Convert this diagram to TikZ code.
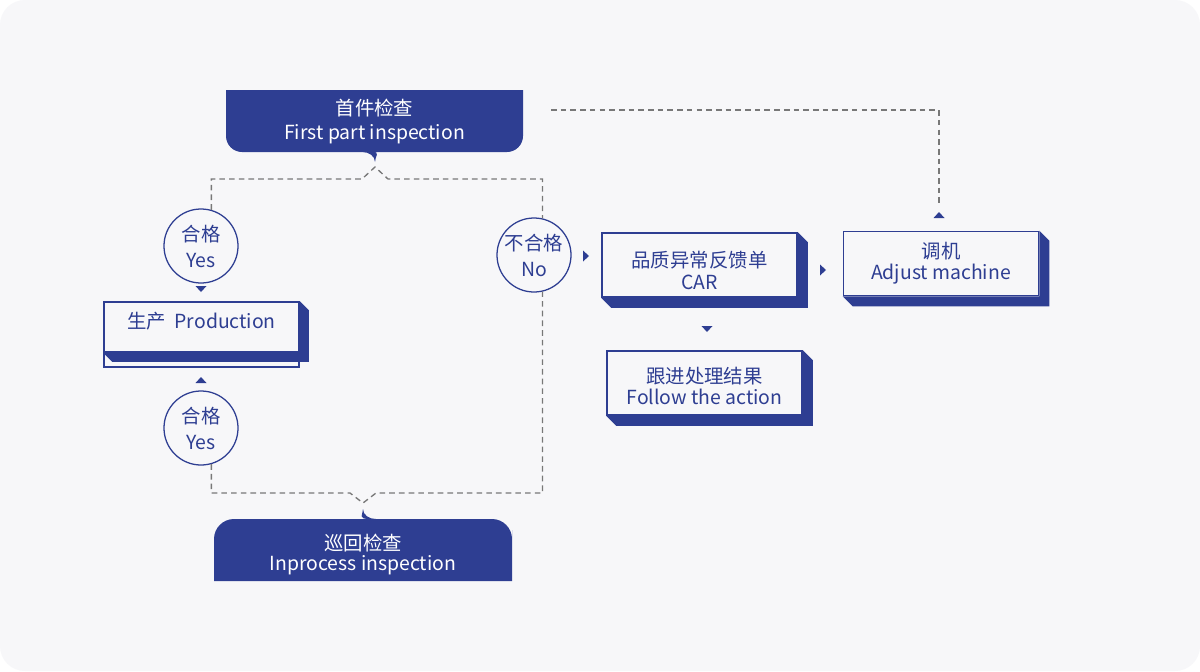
\documentclass[tikz,border=0pt]{standalone}
\usepackage{fontspec}
\newfontfamily\cjk{Noto Sans CJK SC}
\usetikzlibrary{calc}
\definecolor{cblue}{HTML}{2E3E92}
\definecolor{pagebg}{HTML}{F7F7F9}
\definecolor{dashgray}{HTML}{787878}
\newcommand\labfont[1]{\cjk\fontsize{13.8}{#1}\selectfont}
% extruded edge below and right of a box node
\newcommand\extrude[2]{%
  \fill[cblue] (#1.north east) -- ++(#2,#2) -- ($(#1.south east)+(#2,#2)$)
    -- ($(#1.south west)+(#2,#2)$) -- (#1.south west) -- (#1.south east) -- cycle;}
\tikzset{
  banner/.style  = {fill=cblue, draw=none},
  bantext/.style = {text=white, align=center, inner sep=0pt},
  procbox/.style = {draw=cblue, line width=1.2pt, fill=pagebg, minimum width=4.875cm,
                    inner sep=0pt, text=cblue, align=center},
  boxtext/.style = {text=cblue, align=center, inner sep=0pt},
  yesno/.style   = {circle, draw=cblue, line width=0.9pt, fill=pagebg, minimum size=1.85cm,
                    inner sep=0pt, text=cblue, align=center, font=\labfont{18.5}},
  flow/.style    = {draw=dashgray, line width=0.95pt, dash pattern=on 4pt off 2.9pt},
  tip/.style     = {fill=cblue},
}
\begin{document}
\begin{tikzpicture}[x=0.025cm, y=-0.025cm]
  \fill[white] (0,0) rectangle (1200,671);
  \fill[pagebg, rounded corners=0.625cm] (0,0) rectangle (1200,671);

  % banners
  \fill[banner] (226,90) -- (523,90) -- (523,120) [rounded corners=0.4cm] -- (523,152) -- (388,152)
    [sharp corners] .. controls (381,152) and (375,156) .. (375,162)
    .. controls (375,156) and (369,152) .. (362,152) [rounded corners=0.4cm] -- (226,152)
    -- (226,120) [sharp corners] -- cycle;
  \fill[banner] (214,581) -- (214,550) [rounded corners=0.5cm] -- (214,519) -- (350,519)
    [sharp corners] .. controls (357,519) and (363,515) .. (363,509)
    .. controls (363,515) and (369,519) .. (376,519) [rounded corners=0.5cm] -- (512,519)
    -- (512,550) [sharp corners] -- (512,581) -- cycle;
  \node[bantext, font=\labfont{16.6}] (first) at (374.5,121.5) {首件检查\\First part inspection};
  \node[bantext, font=\labfont{14.2}] (inproc) at (363,554.5) {巡回检查\\Inprocess inspection};

  % boxes
  \draw[cblue, line width=0.8pt] (104,302) rectangle (299,367);
  \node[procbox, minimum height=1.25cm] (prod) at (201.5,327) {};
  \extrude{prod}{9}
  \node[boxtext, font=\labfont{16}] (prodlab) at (201.5,321) {生产\hspace{0.45em}Production};
  \node[procbox, minimum height=1.6cm] (car) at (699.5,265) {};
  \extrude{car}{10}
  \node[boxtext, font=\labfont{15.6}] (carlab) at (699.5,270) {品质异常反馈单\\CAR};
  \node[procbox, minimum height=1.6cm] (follow) at (704.5,383) {};
  \extrude{follow}{10}
  \node[boxtext, font=\labfont{14.5}] (followlab) at (704.5,386) {跟进处理结果\\Follow the action};
  \node[procbox, minimum height=1.6cm, font=\labfont{15}] (adjust) at (941,263.5) {调机\\Adjust machine};
  \extrude{adjust}{10}

  % decisions
  \node[yesno] (pass1) at (201,246) {合格\\Yes};
  \node[yesno] (pass2) at (201,428) {合格\\Yes};
  \node[yesno] (fail) at (534,255) {不合格\\No};

  % dashed connectors
  \coordinate (firstout) at (551,110);
  \coordinate (adjustin) at (939,205);
  \draw[flow] (pass1.74) |- (362,179) -- (375,167) -- (388,179) -| (fail.77);
  \draw[flow] (pass2.-74) |- (350,493) -- (363,503) -- (376,493) -| (fail.-77);
  \draw[flow] (firstout) -| (adjustin);

  % tips
  \fill[tip] (195.5,286) -- (206.5,286) -- (201,292) -- cycle;
  \fill[tip] (195.5,383) -- (206.5,383) -- (201,377) -- cycle;
  \fill[tip] (583,250.5) -- (583,261.5) -- (589,256) -- cycle;
  \fill[tip] (701.5,326) -- (712.5,326) -- (707,332) -- cycle;
  \fill[tip] (820,264.5) -- (820,275.5) -- (826,270) -- cycle;
  \fill[tip] (933.5,218) -- (944.5,218) -- (939,212) -- cycle;
\end{tikzpicture}
\end{document}
